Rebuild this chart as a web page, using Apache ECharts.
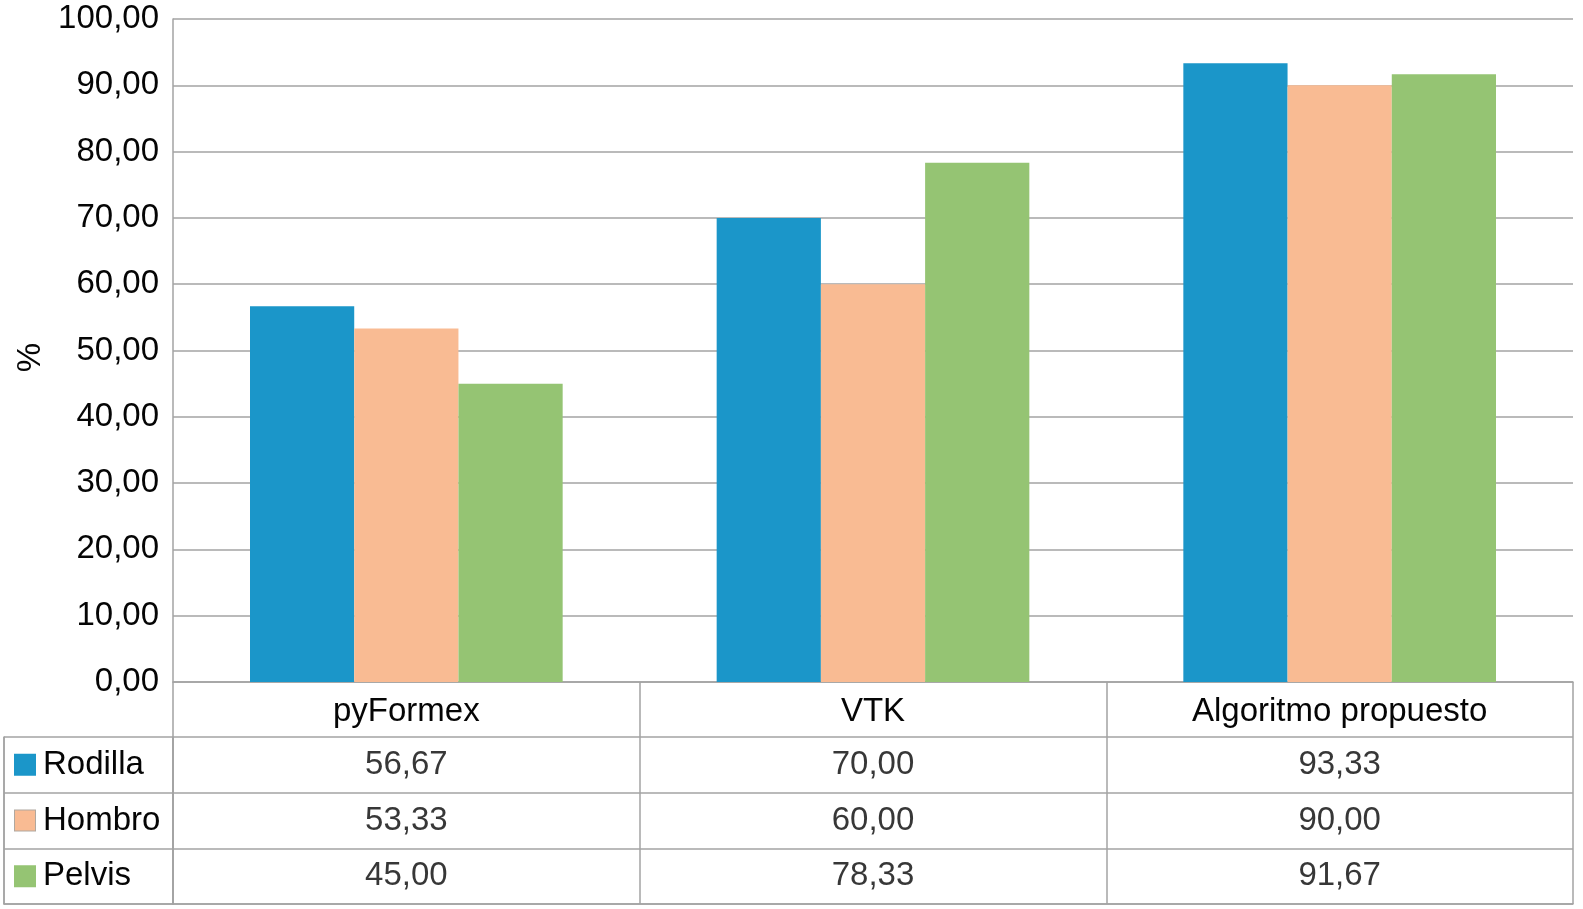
<!DOCTYPE html>
<html>
<head>
<meta charset="utf-8">
<script src="https://cdn.jsdelivr.net/npm/echarts@6/dist/echarts.min.js"></script>
<style>
html,body{margin:0;padding:0;background:#fff;}
#chart{width:1583px;height:909px;}
</style>
</head>
<body>
<div id="chart"></div>
<script>
const categories = ['pyFormex', 'VTK', 'Algoritmo propuesto'];
const seriesNames = ['Rodilla', 'Hombro', 'Pelvis'];
const rodilla = [56.67, 70.00, 93.33];
const hombro = [53.33, 60.00, 90.00];
const pelvis = [45.00, 78.33, 91.67];
const yMin = 0, yMax = 100, yStep = 10;
const axisName = '%';

const seriesValues = [rodilla, hombro, pelvis];
const colors = ['#1b96c9', '#f9bb93', '#95c473'];
const gray = '#a3a3a3';
const fontFamily = 'Liberation Sans, Arial, sans-serif';
const fs = 33;
const txt = '#050505';
const fmt = v => Number(v).toFixed(2).replace('.', ',');

const chart = echarts.init(document.getElementById('chart'));

const tableData = [];
seriesValues.forEach((vals, s) => vals.forEach((v, c) => tableData.push([c, s, v])));

const rich = { t: { fontSize: fs, fontFamily, color: txt, padding: [0, 0, 0, 8] } };
colors.forEach((col, i) => {
  rich['m' + i] = { width: 20, height: 20, backgroundColor: col, borderColor: i === 1 ? '#b0a89f' : col, borderWidth: 1 };
});

const option = {
  backgroundColor: '#fff',
  animation: false,
  textStyle: { fontFamily },
  grid: [
    { left: 173, right: 10, top: 19, bottom: 227, containLabel: false },
    { left: 173, right: 10, top: 737, height: 167, containLabel: false },
    { left: 4, width: 169, top: 737, height: 167, containLabel: false }
  ],
  xAxis: [
    {
      gridIndex: 0, type: 'category', data: categories,
      axisLine: { show: true, lineStyle: { color: gray, width: 1.5 } },
      axisTick: { show: true, length: 55, interval: 0, lineStyle: { color: gray, width: 1.5 } },
      axisLabel: { interval: 0, fontSize: fs, fontFamily, color: txt, margin: 13 },
      splitLine: { show: false }
    },
    {
      gridIndex: 1, type: 'category', data: categories,
      axisLine: { show: true, lineStyle: { color: gray, width: 1.5 } },
      axisTick: { show: false }, axisLabel: { show: false },
      splitLine: { show: true, interval: 0, lineStyle: { color: gray, width: 1.5 } }
    },
    {
      gridIndex: 2, type: 'category', data: [''],
      axisLine: { show: true, lineStyle: { color: gray, width: 1.5 } },
      axisTick: { show: false }, axisLabel: { show: false },
      splitLine: { show: true, interval: 0, lineStyle: { color: gray, width: 1.5 } }
    }
  ],
  yAxis: [
    {
      gridIndex: 0, type: 'value', min: yMin, max: yMax, interval: yStep,
      name: axisName, nameLocation: 'middle', nameGap: 118, nameRotate: 90,
      nameTextStyle: { fontSize: fs, fontFamily, color: txt, padding: [0, 14, 0, 0] },
      axisLine: { show: true, lineStyle: { color: gray, width: 1.5 } },
      axisTick: { show: false },
      axisLabel: { fontSize: fs, fontFamily, color: txt, margin: 14, formatter: v => fmt(v) },
      splitLine: { show: true, lineStyle: { color: gray, width: 1.5 } }
    },
    {
      gridIndex: 1, type: 'category', data: seriesNames, inverse: true,
      axisLine: { show: true, lineStyle: { color: gray, width: 1.5 } },
      axisTick: { show: false },
      axisLabel: {
        interval: 0, align: 'left', margin: 158,
        formatter: (v, i) => '{m' + i + '|}{t|' + v + '}', rich
      },
      splitLine: { show: true, interval: 0, lineStyle: { color: gray, width: 1.5 } }
    },
    {
      gridIndex: 2, type: 'category', data: seriesNames, inverse: true,
      axisLine: { show: true, lineStyle: { color: gray, width: 1.5 } },
      axisTick: { show: false }, axisLabel: { show: false },
      splitLine: { show: true, interval: 0, lineStyle: { color: gray, width: 1.5 } }
    }
  ],
  series: [
    ...seriesNames.map((name, i) => ({
      name, type: 'bar', xAxisIndex: 0, yAxisIndex: 0,
      data: seriesValues[i], barGap: '0%', barCategoryGap: '33%',
      itemStyle: { color: colors[i] }
    })),
    {
      name: 'tabla', type: 'scatter', xAxisIndex: 1, yAxisIndex: 1,
      data: tableData, symbol: 'rect', symbolSize: 1,
      itemStyle: { color: 'rgba(0,0,0,0)' },
      label: {
        show: true, position: 'inside', fontSize: fs, fontFamily, color: txt,
        formatter: p => fmt(p.value[2])
      }
    }
  ]
};
chart.setOption(option);
</script>
</body>
</html>
